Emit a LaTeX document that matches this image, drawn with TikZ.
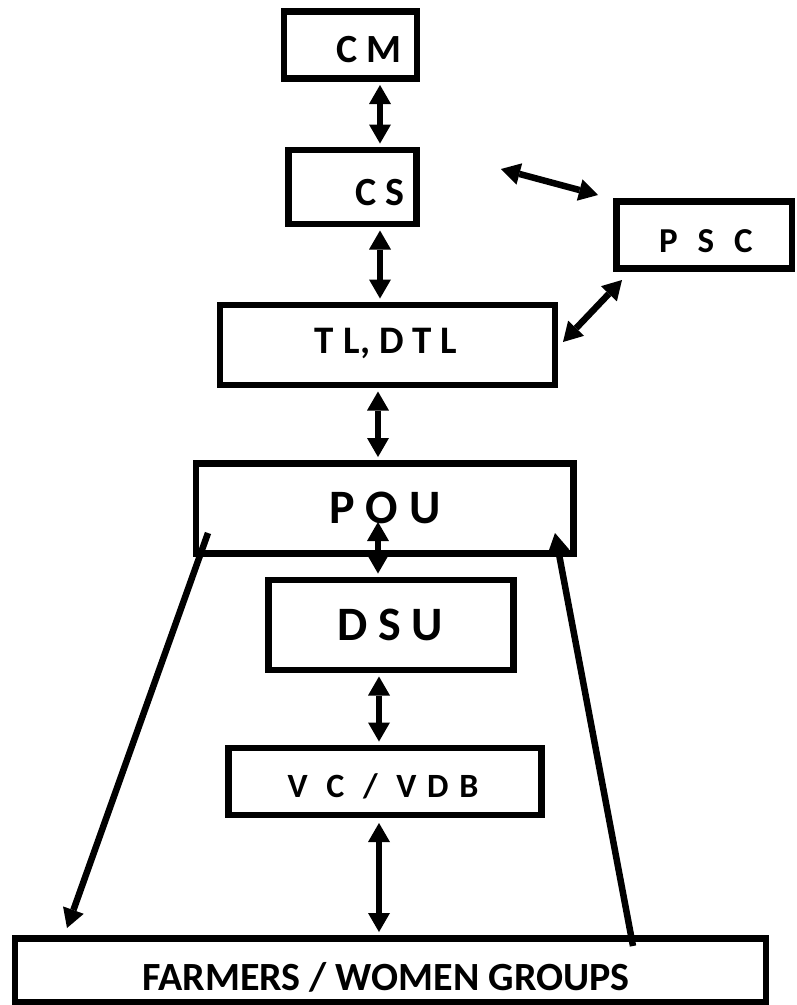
\documentclass[tikz,border=0pt]{standalone}
\usepackage{fontspec}
\setmainfont{Carlito}
\usetikzlibrary{arrows.meta}
\begin{document}
\begin{tikzpicture}[x=1pt,y=-1pt,
  box/.style={draw,line width=6.5pt,rectangle,inner sep=0pt},
  lbl/.style={anchor=base,inner sep=0pt,font=\bfseries},
  link/.style={line width=6.5pt,{Triangle[length=19pt,width=22pt,line width=0pt]}-{Triangle[length=19pt,width=22pt,line width=0pt]}},
  onelink/.style={line width=6.5pt,-{Triangle[length=19pt,width=22pt,line width=0pt]}}]
\useasboundingbox (0,0) rectangle (796,1005);
% boxes (centre, centre-line width and height)
\node[box,minimum width=133pt,minimum height=67pt] (cm)  at (350.5,45) {};
\node[box,minimum width=128pt,minimum height=74pt] (cs)  at (352.5,187) {};
\node[box,minimum width=175.5pt,minimum height=67pt] (psc) at (704.25,235) {};
\node[box,minimum width=335pt,minimum height=80pt] (tl)  at (387.5,345) {};
\node[box,minimum width=377.5pt,minimum height=90pt] (pou) at (384.75,508.5) {};
\node[box,minimum width=245pt,minimum height=90pt] (dsu) at (391,625) {};
\node[box,minimum width=313pt,minimum height=67pt] (vc)  at (385,781.5) {};
\node[box,minimum width=751pt,minimum height=63.5pt] (fw) at (390.5,970.25) {};
% labels
\node[lbl,font=\bfseries\fontsize{40}{41}\selectfont] (tcm) at (369,62) {C M};
\node[lbl,font=\bfseries\fontsize{40}{41}\selectfont] (tcs) at (380,205) {C S};
\node[lbl,font=\bfseries\fontsize{35}{36}\selectfont] (tpsc) at (706,252) {P\hspace{12pt} S\hspace{12pt} C};
\node[lbl,font=\bfseries\fontsize{39}{40}\selectfont] (ttl) at (386,353) {T L, D T L};
\node[lbl,font=\bfseries\fontsize{48}{49}\selectfont] (tpou) at (385,523) {P O U};
\node[lbl,font=\bfseries\fontsize{48}{49}\selectfont] (tdsu) at (390,640) {D S U};
\node[lbl,font=\bfseries\fontsize{34}{35}\selectfont] (tvc) at (383,797) {V\hspace{11pt} C\hspace{11pt} /\hspace{11pt} V\hspace{3pt} D\hspace{3pt} B};
\node[lbl,font=\bfseries\fontsize{40}{41}\selectfont] (tfw) at (386,990) {FARMERS / WOMEN GROUPS};
% connector end points
\coordinate (a1) at (380,0);
\coordinate (a2) at (378,0);
\coordinate (a3) at (379,0);
\coordinate (csr) at (501,169);
\coordinate (pscl) at (598,195);
\coordinate (tlr) at (563,342);
\coordinate (pscb) at (622,280);
\coordinate (pouin) at (378,522);
\coordinate (vcb) at (379,823);
\coordinate (fwt) at (379,932);
\coordinate (pl) at (208,533);
\coordinate (fl) at (67,928);
\coordinate (fr) at (633,946);
\coordinate (pr) at (555,533);
% connectors
\draw[link] ([yshift=-3.25pt]cm.south -| a1) -- ([yshift=3.25pt]cs.north -| a1);
\draw[link] ([yshift=-3.25pt]cs.south -| a1) -- ([yshift=3.25pt]tl.north -| a1);
\draw[link] (csr) -- (pscl);
\draw[link] (tlr) -- (pscb);
\draw[link] ([yshift=-3.25pt]tl.south -| a2) -- ([yshift=3.25pt]pou.north -| a2);
\draw[link] (pouin) -- ([yshift=3.25pt]dsu.north -| a2);
\draw[link] ([yshift=-3.25pt]dsu.south -| a3) -- ([yshift=3.25pt]vc.north -| a3);
\draw[link] (vcb) -- (fwt);
\draw[onelink] (pl) -- (fl);
\draw[onelink] (fr) -- (pr);
\end{tikzpicture}
\end{document}
